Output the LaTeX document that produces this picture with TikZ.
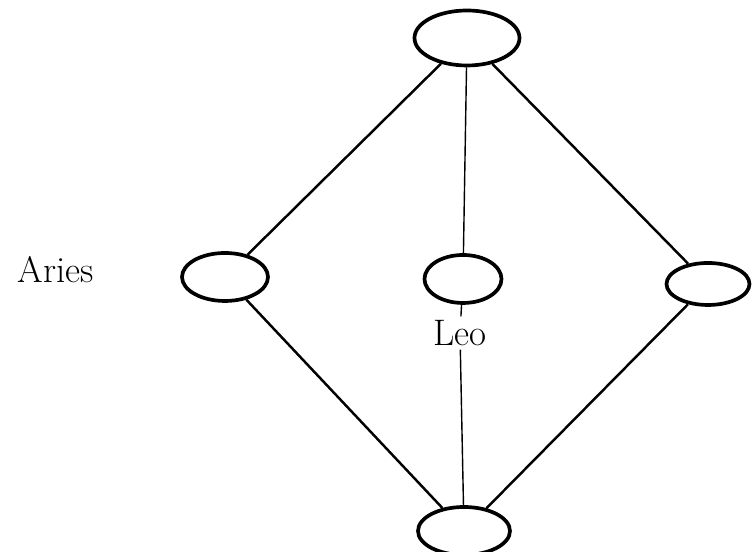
\documentclass[tikz,border=0pt]{standalone}
\usepackage{tikz}
\usetikzlibrary{shapes.geometric}

\begin{document}
\begin{tikzpicture}[
    sign/.style={draw, ellipse, line width=2.1pt, inner sep=0pt},
    label/.style={font=\fontsize{21}{25}\selectfont, inner sep=2pt},
    link/.style={line width=1.4pt},
    thinlink/.style={line width=0.8pt}
  ]
    \useasboundingbox (0,0) rectangle (15.06,11.04);
    \node[sign, minimum width=2.1cm, minimum height=1.1cm] (top) at (9.34,10.28) {};
    \node[sign, minimum width=1.72cm, minimum height=0.96cm] (aries) at (4.5,5.5) {};
    \node[sign, minimum width=1.54cm, minimum height=0.96cm] (leo) at (9.26,5.46) {};
    \node[sign, minimum width=1.66cm, minimum height=0.84cm] (east) at (14.16,5.36) {};
    \node[sign, minimum width=1.84cm, minimum height=0.96cm] (bottom) at (9.28,0.42) {};
    \node[label] (arieslabel) at (1.12,5.64) {Aries};
    \node[label] (leolabel) at (9.2,4.38) {Leo};

    \draw[link] (top) -- (aries);
    \draw[thinlink] (top) -- (leo);
    \draw[link] (top) -- (east);
    \draw[link] (aries) -- (bottom);
    \draw[thinlink] (leo) -- (leolabel);
    \draw[thinlink] (leolabel) -- (bottom);
    \draw[link] (east) -- (bottom);
  \end{tikzpicture}
\end{document}
